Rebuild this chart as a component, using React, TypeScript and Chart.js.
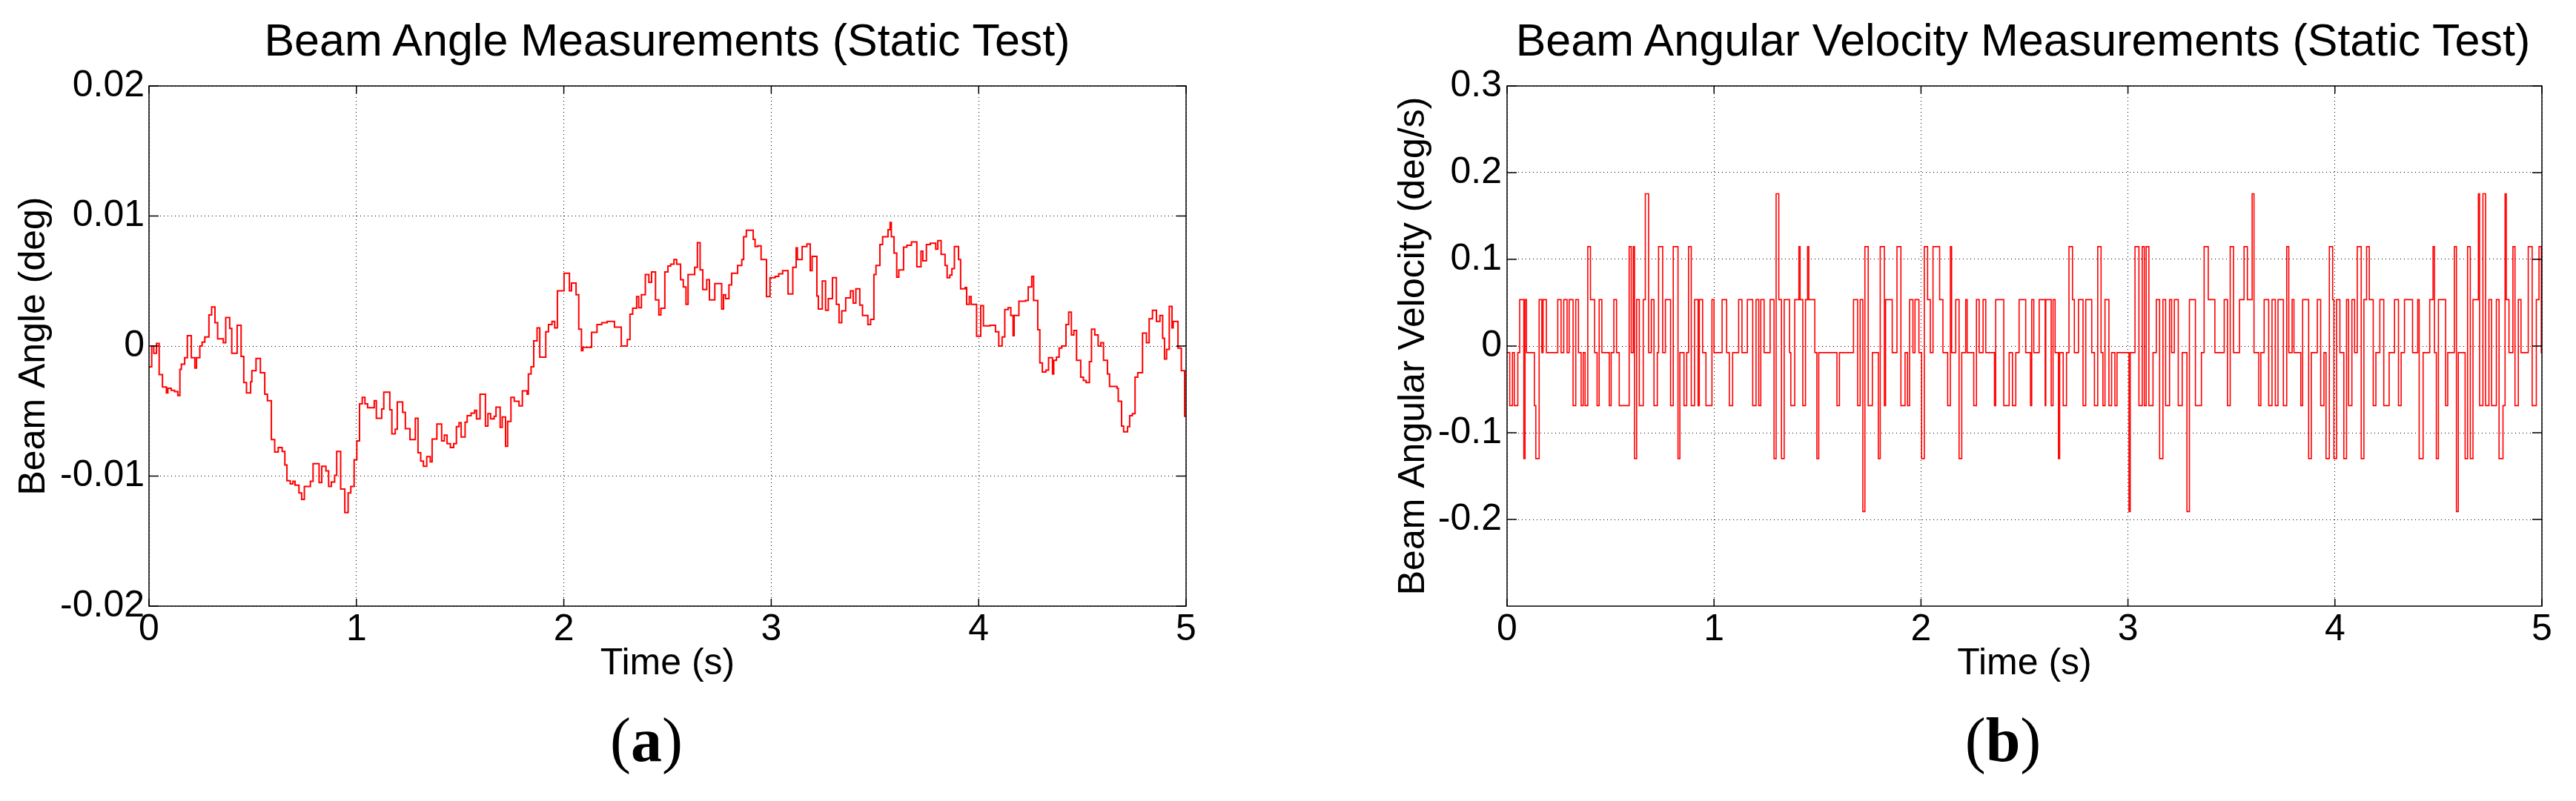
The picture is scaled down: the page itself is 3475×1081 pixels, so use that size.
import React, { useEffect, useRef } from 'react';
import { Chart, registerables } from 'chart.js';

Chart.register(...registerables);

const FONT = "'Liberation Sans', Arial, Helvetica, sans-serif";
const PAGE_H = 1081;
const PLOT_TOP = 116;
const PLOT_BOTTOM = 818;

// time axis (s)
const timeTicks = [0, 1, 2, 3, 4, 5];
const timeTickLabels = ['0', '1', '2', '3', '4', '5'];

const angleTicks = [-0.02, -0.01, 0, 0.01, 0.02];
const angleTickLabels = ['-0.02', '-0.01', '0', '0.01', '0.02'];

// no label at -0.3 in the original
const velocityTicks = [-0.2, -0.1, 0, 0.1, 0.2, 0.3];
const velocityTickLabels = ['-0.2', '-0.1', '0', '0.1', '0.2', '0.3'];

// beam angle, sample-and-hold steps (time s / angle deg)
const angleTime = [
  0, 0.013, 0.023, 0.036, 0.049, 0.065, 0.084, 0.091, 0.107, 0.123,
  0.139, 0.149, 0.156, 0.172, 0.185, 0.204, 0.221, 0.229, 0.245, 0.256,
  0.269, 0.289, 0.302, 0.318, 0.331, 0.358, 0.37, 0.389, 0.399, 0.425,
  0.444, 0.457, 0.47, 0.49, 0.496, 0.516, 0.537, 0.558, 0.571, 0.59,
  0.606, 0.623, 0.642, 0.655, 0.665, 0.681, 0.694, 0.704, 0.723, 0.736,
  0.749, 0.778, 0.791, 0.82, 0.833, 0.853, 0.866, 0.879, 0.895, 0.905,
  0.924, 0.944, 0.96, 0.973, 0.989, 1.002, 1.015, 1.028, 1.041, 1.054,
  1.086, 1.096, 1.122, 1.132, 1.161, 1.171, 1.187, 1.197, 1.223, 1.236,
  1.258, 1.284, 1.297, 1.31, 1.323, 1.339, 1.356, 1.365, 1.388, 1.411,
  1.424, 1.437, 1.453, 1.469, 1.482, 1.495, 1.505, 1.524, 1.534, 1.553,
  1.57, 1.579, 1.596, 1.622, 1.634, 1.647, 1.664, 1.673, 1.693, 1.703,
  1.719, 1.729, 1.745, 1.761, 1.784, 1.8, 1.823, 1.829, 1.842, 1.855,
  1.871, 1.884, 1.913, 1.926, 1.943, 1.956, 1.969, 2.001, 2.027, 2.037,
  2.059, 2.072, 2.085, 2.092, 2.134, 2.16, 2.183, 2.209, 2.244, 2.277,
  2.306, 2.319, 2.332, 2.351, 2.361, 2.374, 2.393, 2.41, 2.423, 2.442,
  2.458, 2.468, 2.487, 2.502, 2.515, 2.531, 2.544, 2.563, 2.576, 2.589,
  2.599, 2.631, 2.644, 2.657, 2.67, 2.689, 2.702, 2.728, 2.761, 2.77,
  2.78, 2.796, 2.809, 2.838, 2.858, 2.867, 2.88, 2.913, 2.922, 2.935,
  2.951, 2.977, 2.994, 3.019, 3.036, 3.055, 3.081, 3.104, 3.12, 3.126,
  3.149, 3.172, 3.188, 3.197, 3.22, 3.227, 3.246, 3.262, 3.275, 3.295,
  3.314, 3.327, 3.34, 3.359, 3.382, 3.395, 3.408, 3.427, 3.44, 3.466,
  3.479, 3.495, 3.505, 3.524, 3.537, 3.563, 3.573, 3.579, 3.592, 3.605,
  3.615, 3.638, 3.654, 3.676, 3.702, 3.722, 3.731, 3.748, 3.767, 3.793,
  3.803, 3.819, 3.838, 3.848, 3.861, 3.871, 3.883, 3.903, 3.913, 3.935,
  3.942, 3.955, 3.964, 3.99, 4.01, 4.023, 4.055, 4.081, 4.097, 4.113,
  4.126, 4.142, 4.155, 4.166, 4.171, 4.194, 4.226, 4.239, 4.256, 4.265,
  4.285, 4.295, 4.307, 4.324, 4.337, 4.356, 4.362, 4.375, 4.388, 4.401,
  4.421, 4.434, 4.447, 4.459, 4.472, 4.492, 4.505, 4.518, 4.534, 4.544,
  4.56, 4.576, 4.589, 4.602, 4.621, 4.631, 4.667, 4.673, 4.689, 4.699,
  4.718, 4.728, 4.741, 4.754, 4.767, 4.79, 4.809, 4.822, 4.838, 4.857,
  4.874, 4.887, 4.896, 4.906, 4.919, 4.932, 4.938, 4.961, 4.977, 4.993, 5,
];

const angleDeg = [
  -0.0016, 0, -0.00055, 0.0002, -0.0022, -0.00315, -0.0036, -0.00325, -0.0034, -0.0035,
  -0.0038, -0.0018, -0.0014, -0.0009, 0.0008, -0.0009, -0.0017, -0.0009, 0, 0.0003,
  0.0007, 0.0024, 0.003, 0.0018, 0.00055, 0.00025, 0.0022, 0.00135, -0.00055, 0.0016,
  -0.0008, -0.0028, -0.0036, -0.00275, -0.0019, -0.00095, -0.00205, -0.0037, -0.0042, -0.0072,
  -0.00815, -0.0078, -0.0081, -0.00915, -0.01035, -0.0106, -0.0104, -0.0107, -0.0113, -0.0118,
  -0.0108, -0.0104, -0.00905, -0.0105, -0.00925, -0.0096, -0.0108, -0.01045, -0.00995, -0.0081,
  -0.011, -0.0128, -0.0113, -0.0108, -0.00875, -0.0073, -0.00445, -0.00395, -0.00445, -0.00475,
  -0.0042, -0.00555, -0.00485, -0.00355, -0.0049, -0.00675, -0.0064, -0.0043, -0.0051, -0.00635,
  -0.0072, -0.00555, -0.0082, -0.00885, -0.00925, -0.0085, -0.0089, -0.00715, -0.006, -0.0073,
  -0.00685, -0.0075, -0.0078, -0.0075, -0.0062, -0.0059, -0.007, -0.00585, -0.00535, -0.00515,
  -0.00495, -0.0056, -0.0037, -0.00615, -0.0052, -0.0056, -0.0054, -0.0047, -0.00625, -0.00545,
  -0.0077, -0.0058, -0.00395, -0.00425, -0.0046, -0.00345, -0.0037, -0.00215, -0.0016, 0.0004,
  0.0014, -0.00085, 0.0011, 0.00165, 0.0019, 0.0014, 0.00425, 0.0056, 0.00425, 0.00485,
  0.00395, 0.0013, -0.00035, -0.0001, 0.00105, 0.00165, 0.0018, 0.0019, 0.00145, 0,
  0.0005, 0.00245, 0.0029, 0.0038, 0.00295, 0.00395, 0.0055, 0.0049, 0.0057, 0.00355,
  0.0024, 0.0029, 0.0057, 0.00615, 0.0063, 0.00665, 0.0063, 0.0051, 0.00455, 0.0032,
  0.0055, 0.00605, 0.00795, 0.00585, 0.00435, 0.0051, 0.00355, 0.0048, 0.00285, 0.00395,
  0.00365, 0.0047, 0.0056, 0.0062, 0.00665, 0.0084, 0.0089, 0.0082, 0.00765, 0.0077,
  0.00665, 0.0038, 0.00525, 0.00535, 0.00555, 0.0058, 0.004, 0.00605, 0.00755, 0.00665,
  0.00765, 0.00785, 0.0058, 0.0069, 0.00385, 0.00285, 0.005, 0.00275, 0.00365, 0.00525,
  0.0032, 0.0018, 0.0027, 0.0037, 0.00425, 0.0033, 0.0044, 0.00315, 0.00235, 0.00165,
  0.00205, 0.0055, 0.0062, 0.0078, 0.0084, 0.00895, 0.0095, 0.0084, 0.00715, 0.0053,
  0.00585, 0.0076, 0.00775, 0.008, 0.0061, 0.0073, 0.00655, 0.0078, 0.0079, 0.00745,
  0.0081, 0.00705, 0.0062, 0.00525, 0.00545, 0.00595, 0.00765, 0.00665, 0.0044, 0.0045,
  0.0032, 0.0038, 0.0032, 0.00075, 0.0031, 0.00155, 0.0016, 0.0011, 0, 0.0007,
  0.0028, 0.00295, 0.00235, 0.0008, 0.00235, 0.00345, 0.0035, 0.00455, 0.00535, 0.0035,
  0.00125, -0.0013, -0.002, -0.00185, -0.0009, -0.00215, -0.0011, -0.00085, -0.00015, 0,
  0.00165, 0.0026, 0.00085, 0.0012, -0.0011, -0.0024, -0.00265, -0.0028, -0.0012, 0.0013,
  0.00085, 0, 0.00025, -0.0011, -0.00215, -0.0031, -0.00325, -0.00425, -0.00615, -0.0066,
  -0.0062, -0.00535, -0.0052, -0.0024, -0.00205, 0.001, 0.00025, 0.0021, 0.00275, 0.0019,
  0.00235, 0.0006, -0.001, -0.00025, 0.00305, 0.0014, 0.0019, -0.00015, -0.0019, -0.0054, -0.0054,
];

// beam angular velocity, sample-and-hold steps (time s / deg/s)
const velocityTime = [
  0, 0.013, 0.026, 0.035, 0.052, 0.061, 0.081, 0.087, 0.094, 0.132,
  0.139, 0.155, 0.168, 0.174, 0.19, 0.245, 0.261, 0.274, 0.29, 0.3,
  0.319, 0.332, 0.345, 0.358, 0.368, 0.377, 0.39, 0.403, 0.423, 0.435,
  0.445, 0.458, 0.494, 0.503, 0.516, 0.529, 0.542, 0.59, 0.6, 0.61,
  0.616, 0.626, 0.639, 0.658, 0.668, 0.684, 0.697, 0.71, 0.726, 0.732,
  0.752, 0.765, 0.79, 0.803, 0.826, 0.835, 0.855, 0.868, 0.877, 0.89,
  0.906, 0.923, 0.929, 0.945, 0.961, 0.99, 1.0, 1.039, 1.061, 1.074,
  1.09, 1.119, 1.135, 1.161, 1.187, 1.203, 1.216, 1.226, 1.242, 1.271,
  1.29, 1.3, 1.313, 1.326, 1.339, 1.365, 1.371, 1.39, 1.41, 1.416,
  1.429, 1.442, 1.452, 1.458, 1.487, 1.497, 1.506, 1.594, 1.606, 1.674,
  1.694, 1.706, 1.719, 1.729, 1.745, 1.765, 1.794, 1.803, 1.823, 1.829,
  1.861, 1.884, 1.903, 1.923, 1.935, 1.945, 1.961, 1.971, 1.99, 2.003,
  2.016, 2.032, 2.045, 2.058, 2.09, 2.106, 2.129, 2.142, 2.148, 2.168,
  2.184, 2.197, 2.216, 2.223, 2.255, 2.268, 2.281, 2.3, 2.313, 2.355,
  2.361, 2.4, 2.426, 2.442, 2.458, 2.474, 2.506, 2.529, 2.535, 2.545,
  2.571, 2.6, 2.603, 2.629, 2.638, 2.648, 2.664, 2.67, 2.687, 2.703,
  2.715, 2.732, 2.741, 2.761, 2.783, 2.796, 2.825, 2.838, 2.854, 2.87,
  2.879, 2.889, 2.908, 2.921, 2.937, 2.947, 3.005, 3.011, 3.034, 3.053,
  3.069, 3.079, 3.088, 3.101, 3.121, 3.137, 3.153, 3.169, 3.182, 3.201,
  3.211, 3.224, 3.243, 3.262, 3.285, 3.297, 3.326, 3.355, 3.368, 3.388,
  3.42, 3.465, 3.481, 3.494, 3.51, 3.539, 3.561, 3.577, 3.6, 3.609,
  3.632, 3.642, 3.658, 3.68, 3.696, 3.712, 3.725, 3.751, 3.767, 3.777,
  3.793, 3.802, 3.835, 3.844, 3.873, 3.886, 3.915, 3.931, 3.947, 3.957,
  3.973, 3.989, 3.995, 4.008, 4.024, 4.043, 4.056, 4.066, 4.082, 4.095,
  4.108, 4.127, 4.14, 4.153, 4.166, 4.185, 4.198, 4.217, 4.236, 4.262,
  4.288, 4.307, 4.32, 4.336, 4.375, 4.4, 4.407, 4.426, 4.458, 4.474,
  4.481, 4.49, 4.5, 4.535, 4.545, 4.577, 4.587, 4.596, 4.629, 4.641,
  4.654, 4.667, 4.693, 4.699, 4.715, 4.728, 4.744, 4.757, 4.78, 4.793,
  4.812, 4.822, 4.828, 4.841, 4.86, 4.87, 4.886, 4.899, 4.934, 4.953,
  4.973, 4.986, 4.997, 5,
];

const velocityDegS = [
  -0.0076, -0.0687, -0.0076, -0.0687, -0.0076, 0.0535, -0.1298, 0.0535, -0.0076, -0.0687,
  -0.1298, 0.0535, -0.0076, 0.0535, -0.0076, 0.0535, -0.0076, 0.0535, -0.0076, 0.0535,
  -0.0687, 0.0535, -0.0076, -0.0687, -0.0076, -0.0687, 0.1146, 0.0535, -0.0076, -0.0687,
  0.0535, -0.0076, -0.0687, -0.0076, 0.0535, -0.0076, -0.0687, 0.1146, -0.0076, 0.1146,
  -0.1298, 0.0535, -0.0687, 0.0535, 0.1757, -0.0076, 0.0535, -0.0687, -0.0076, 0.1146,
  -0.0076, 0.0535, -0.0687, 0.1146, -0.1298, -0.0076, -0.0687, -0.0076, 0.1146, -0.0687,
  0.0535, -0.0687, 0.0535, -0.0076, -0.0687, 0.0535, -0.0076, 0.0535, -0.0076, -0.0687,
  -0.0076, 0.0535, -0.0076, 0.0535, -0.0687, 0.0535, -0.0687, 0.0535, -0.0076, 0.0535,
  -0.1298, 0.1757, 0.0535, -0.1298, 0.0535, -0.0076, -0.0687, 0.0535, 0.1146, 0.0535,
  -0.0687, 0.0535, 0.1146, 0.0535, -0.0076, -0.1298, -0.0076, -0.0687, -0.0076, 0.0535,
  -0.0687, 0.0535, -0.1909, 0.1146, -0.0687, -0.0076, -0.1298, 0.1146, -0.0687, 0.0535,
  -0.0076, 0.1146, -0.0687, -0.0076, -0.0687, 0.0535, -0.0076, 0.0535, -0.0076, -0.1298,
  0.1146, 0.0535, -0.0076, 0.1146, 0.0535, -0.0076, -0.0687, 0.1146, -0.0076, 0.0535,
  -0.1298, -0.0076, 0.0535, -0.0076, -0.0687, 0.0535, -0.0076, 0.0535, -0.0076, -0.0687,
  0.0535, -0.0687, -0.0076, -0.0687, -0.0076, 0.0535, -0.0076, -0.0687, 0.0535, -0.0076,
  0.0535, -0.0687, 0.0535, -0.0687, 0.0535, -0.0076, -0.1298, -0.0076, -0.0687, -0.0076,
  0.1146, 0.0535, -0.0076, 0.0535, -0.0687, 0.0535, -0.0076, -0.0687, 0.1146, -0.0076,
  -0.0687, 0.0535, -0.0687, -0.0076, -0.0687, -0.0076, -0.1909, -0.0076, 0.1146, -0.0687,
  0.1146, -0.0687, 0.1146, -0.0687, -0.0076, 0.0535, -0.1298, 0.0535, -0.0687, 0.0535,
  -0.0076, 0.0535, -0.0687, -0.0076, -0.1909, 0.0535, -0.0687, -0.0076, 0.1146, 0.0535,
  -0.0076, 0.0535, -0.0687, 0.1146, -0.0076, 0.0535, 0.1146, 0.0535, 0.1757, -0.0076,
  -0.0687, -0.0076, 0.0535, -0.0687, 0.0535, -0.0687, 0.0535, -0.0687, 0.1146, -0.0076,
  0.0535, -0.0076, -0.0687, 0.0535, -0.1298, -0.0076, 0.0535, -0.0687, -0.0076, -0.1298,
  0.1146, 0.0535, -0.1298, 0.0535, -0.0076, -0.1298, 0.0535, -0.0687, 0.0535, -0.0076,
  0.1146, -0.1298, 0.0535, 0.1146, 0.0535, -0.0687, -0.0076, 0.0535, -0.0687, -0.0076,
  0.0535, -0.0687, -0.0076, 0.0535, -0.0076, 0.0535, -0.1298, -0.0076, 0.0535, 0.1146,
  -0.0076, -0.1298, 0.0535, -0.0687, -0.0076, 0.1146, -0.1909, -0.0076, -0.1298, 0.1146,
  -0.1298, 0.0535, 0.1757, -0.0687, 0.1757, -0.0687, 0.0535, -0.0687, 0.0535, -0.1298,
  -0.0687, 0.1757, 0.0535, -0.0076, 0.1146, -0.0687, 0.0535, -0.0076, 0.1146, -0.0687,
  0.0535, 0.1146, -0.0076, -0.0076,
];

// box around the axes plus inward tick marks on all four sides (MATLAB look)
const frameTicks = {
  id: 'frameTicks',
  afterDatasetsDraw(chart: any) {
    const { ctx, chartArea, scales } = chart;
    const { left, right, top, bottom } = chartArea;
    ctx.save();
    ctx.setLineDash([]);
    ctx.strokeStyle = '#000';
    ctx.lineWidth = 1.5;
    ctx.beginPath();
    for (const t of scales.x.ticks) {
      const px = scales.x.getPixelForValue(t.value);
      ctx.moveTo(px, bottom);
      ctx.lineTo(px, bottom - 10);
      ctx.moveTo(px, top);
      ctx.lineTo(px, top + 10);
    }
    for (const t of scales.y.ticks) {
      const py = scales.y.getPixelForValue(t.value);
      ctx.moveTo(left, py);
      ctx.lineTo(left + 13, py);
      ctx.moveTo(right, py);
      ctx.lineTo(right - 13, py);
    }
    ctx.stroke();
    ctx.strokeRect(left, top, right - left, bottom - top);
    ctx.restore();
  },
};

interface PanelProps {
  left: number;
  width: number;
  plotLeft: number;
  plotRight: number;
  time: number[];
  values: number[];
  lineWidth: number;
  yMin: number;
  yMax: number;
  yTicks: number[];
  yTickLabels: string[];
  yTitle: string;
  yTitlePad: number;
  yTickPad: number;
}

const Panel: React.FC<PanelProps> = (p) => {
  const chartRef = useRef<HTMLCanvasElement>(null);

  useEffect(() => {
    if (!chartRef.current) return;
    const ctx = chartRef.current.getContext('2d');
    if (!ctx) return;

    const n = Math.min(p.time.length, p.values.length);
    const points = [];
    for (let i = 0; i < n; i++) points.push({ x: p.time[i], y: p.values[i] });

    const tickFont = { family: FONT, size: 50 };
    const gridStyle = { color: '#000', lineWidth: 1, drawTicks: false };
    const dotted = { display: false, dash: [1, 4] };

    const chart = new Chart(ctx, {
      type: 'line',
      data: {
        datasets: [
          {
            data: points,
            borderColor: '#ff0000',
            borderWidth: p.lineWidth,
            pointRadius: 0,
            stepped: 'before',
            fill: false,
          },
        ],
      },
      options: {
        animation: false,
        responsive: false,
        events: [],
        layout: { padding: { top: PLOT_TOP, right: p.width - p.plotRight, bottom: 0, left: 0 } },
        plugins: { legend: { display: false }, tooltip: { enabled: false } },
        scales: {
          x: {
            type: 'linear',
            min: 0,
            max: 5,
            afterBuildTicks: (s: any) => {
              s.ticks = timeTicks.map((value) => ({ value }));
            },
            afterFit: (s: any) => {
              s.height = PAGE_H - PLOT_BOTTOM;
            },
            grid: gridStyle,
            border: dotted,
            ticks: {
              callback: (_v: any, i: number) => timeTickLabels[i],
              padding: 2,
              maxRotation: 0,
              autoSkip: false,
              color: '#000',
              font: tickFont,
            },
            title: {
              display: true,
              text: 'Time (s)',
              color: '#000',
              font: tickFont,
              padding: { top: 0, bottom: 155 },
            },
          },
          y: {
            type: 'linear',
            min: p.yMin,
            max: p.yMax,
            afterBuildTicks: (s: any) => {
              s.ticks = p.yTicks.map((value) => ({ value }));
            },
            afterFit: (s: any) => {
              s.width = p.plotLeft;
            },
            grid: gridStyle,
            border: dotted,
            ticks: {
              callback: (_v: any, i: number) => p.yTickLabels[i],
              padding: p.yTickPad,
              color: '#000',
              font: tickFont,
            },
            title: {
              display: true,
              text: p.yTitle,
              color: '#000',
              font: tickFont,
              padding: { top: p.yTitlePad, bottom: 0 },
            },
          },
        },
      },
      plugins: [frameTicks],
    } as any);

    return () => chart.destroy();
  }, []);

  return (
    <canvas
      ref={chartRef}
      width={p.width}
      height={PAGE_H}
      style={{ position: 'absolute', left: p.left, top: 0, width: p.width, height: PAGE_H }}
    />
  );
};

const titleStyle: React.CSSProperties = {
  position: 'absolute',
  top: 18,
  fontFamily: FONT,
  fontSize: 61,
  lineHeight: '72px',
  textAlign: 'center',
  whiteSpace: 'nowrap',
  color: '#000',
};

const captionStyle: React.CSSProperties = {
  position: 'absolute',
  top: 949,
  fontFamily: "'Liberation Serif', 'Times New Roman', serif",
  fontSize: 84,
  lineHeight: '100px',
  textAlign: 'center',
  color: '#000',
};

export default function App() {
  return (
    <div
      style={{
        position: 'absolute',
        left: 0,
        top: 0,
        width: 3475,
        height: PAGE_H,
        background: '#fff',
        overflow: 'hidden',
      }}
    >
      <Panel
        left={0}
        width={1740}
        plotLeft={201}
        plotRight={1600}
        time={angleTime}
        values={angleDeg}
        lineWidth={2}
        yMin={-0.02}
        yMax={0.02}
        yTicks={angleTicks}
        yTickLabels={angleTickLabels}
        yTitle="Beam Angle (deg)"
        yTitlePad={16}
        yTickPad={6}
      />
      <Panel
        left={1740}
        width={1735}
        plotLeft={293}
        plotRight={1689}
        time={velocityTime}
        values={velocityDegS}
        lineWidth={1.6}
        yMin={-0.3}
        yMax={0.3}
        yTicks={velocityTicks}
        yTickLabels={velocityTickLabels}
        yTitle="Beam Angular Velocity (deg/s)"
        yTitlePad={137}
        yTickPad={7}
      />
      <div style={{ ...titleStyle, left: 0, width: 1800 }}>Beam Angle Measurements (Static Test)</div>
      <div style={{ ...titleStyle, left: 2029, width: 1400 }}>
        Beam Angular Velocity Measurements (Static Test)
      </div>
      <div style={{ ...captionStyle, left: 0, width: 1744 }}>
        (<b>a</b>)
      </div>
      <div style={{ ...captionStyle, left: 1902, width: 1600 }}>
        (<b>b</b>)
      </div>
    </div>
  );
}
